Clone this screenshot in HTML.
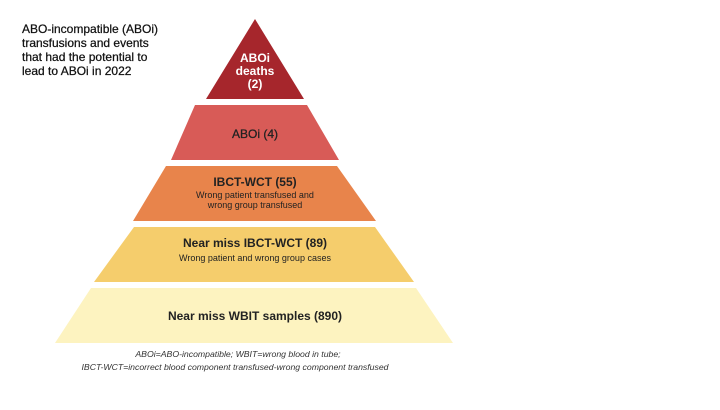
<!DOCTYPE html>
<html><head><style>
body{margin:0;background:#fff;width:720px;height:405px;overflow:hidden;font-family:"Liberation Sans",sans-serif}
</style></head><body>
<svg width="720" height="405" xmlns="http://www.w3.org/2000/svg" font-family="Liberation Sans, sans-serif">
<polygon points="255,19 304,99 206,99" fill="#a6262c"/>
<polygon points="195,105 307,105 339,160 171,160" fill="#d85b57"/>
<polygon points="166,166 337,166 376,221 133,221" fill="#e8844b"/>
<polygon points="134,227 375,227 414,282 94,282" fill="#f5cd6c"/>
<polygon points="91,288 416,288 453,343 55,343" fill="#fdf3c0"/>
<g font-size="12" fill="#111" stroke="#111" stroke-width="0.25">
<text x="22" y="33">ABO-incompatible (ABOi)</text>
<text x="22" y="47">transfusions and events</text>
<text x="22" y="61">that had the potential to</text>
<text x="22" y="75">lead to ABOi in 2022</text>
</g>
<g font-size="12" font-weight="bold" text-anchor="middle">
<text x="255" y="62" fill="#fff">ABOi</text>
<text x="255" y="75" fill="#fff">deaths</text>
<text x="255" y="88" fill="#fff">(2)</text>
<text x="255" y="138" fill="#222" style="font-weight:normal" stroke="#222" stroke-width="0.3">ABOi (4)</text>
<text x="255" y="186" fill="#222">IBCT-WCT (55)</text>
<text x="255" y="247" fill="#222">Near miss IBCT-WCT (89)</text>
<text x="255" y="320" fill="#222">Near miss WBIT samples (890)</text>
</g>
<g font-size="9" text-anchor="middle" fill="#222">
<text x="255" y="198">Wrong patient transfused and</text>
<text x="255" y="208">wrong group transfused</text>
<text x="255" y="261">Wrong patient and wrong group cases</text>
</g>
<g font-size="8.7" font-style="italic" text-anchor="middle" fill="#333">
<text x="238" y="357">ABOi=ABO-incompatible; WBIT=wrong blood in tube;</text>
<text x="235" y="370">IBCT-WCT=incorrect blood component transfused-wrong component transfused</text>
</g>
</svg>
</body></html>
